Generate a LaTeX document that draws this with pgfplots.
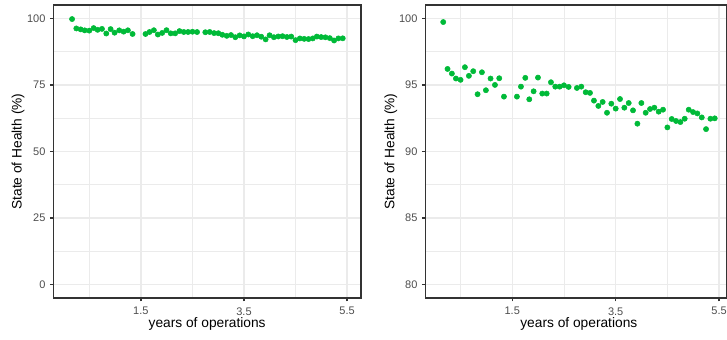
\documentclass[border=0pt]{standalone}
\usepackage{fontspec}
\setmainfont{Liberation Sans}
\usepackage{pgfplots}
\usepackage{pgfplotstable}
\pgfplotsset{compat=1.18}
\definecolor{ggreen}{HTML}{00BA38}
\definecolor{grey20}{HTML}{333333}
\definecolor{grey30}{HTML}{4D4D4D}
\definecolor{grey92}{HTML}{EBEBEB}

\pgfplotstableread{
x y
0.165 99.72
0.248 96.20
0.332 95.85
0.410 95.48
0.500 95.38
0.584 96.33
0.661 95.68
0.745 96.03
0.829 94.30
0.913 95.95
0.990 94.60
1.080 95.48
1.165 95.00
1.248 95.50
1.339 94.12
1.590 94.12
1.668 94.87
1.752 95.53
1.829 93.92
1.913 94.52
1.997 95.55
2.080 94.35
2.165 94.35
2.248 95.20
2.332 94.87
2.416 94.87
2.500 94.97
2.590 94.85
2.750 94.77
2.835 94.87
2.920 94.45
3.003 94.40
3.080 93.82
3.165 93.42
3.248 93.72
3.332 92.91
3.416 93.59
3.500 93.22
3.584 93.94
3.668 93.29
3.752 93.64
3.835 93.09
3.920 92.09
3.997 93.64
4.080 92.91
4.165 93.19
4.248 93.29
4.332 92.99
4.416 93.14
4.500 91.81
4.584 92.44
4.668 92.29
4.752 92.21
4.835 92.46
4.913 93.14
4.997 92.96
5.080 92.86
5.165 92.56
5.248 91.68
5.332 92.46
5.416 92.49
}\soh

\pgfplotsset{
  sohstyle/.style={
    scale only axis,
    anchor=south west,
    height=234.4pt,
    axis line style={grey20, line width=1.07pt},
    tick align=outside,
    tick pos=left,
    major tick length=2.75pt,
    minor tick length=0pt,
    major tick style={grey20, line width=1.07pt},
    grid=both,
    major grid style={grey92, line width=1.07pt},
    minor grid style={grey92, line width=0.53pt},
    xtick={1.5,3.5,5.5},
    minor xtick={0.5,2.5,4.5},
    xticklabels={1.5,3.5,5.5},
    ticklabel style={font=\fontsize{8.8}{10}\selectfont, color=grey30},
    xticklabel style={yshift=-1.2pt},
    /pgf/number format/assume math mode=true,
    label style={font=\fontsize{11}{13}\selectfont, color=black},
    xlabel={years of operations},
    ylabel={State of Health (\%)},
    ylabel style={at={(axis description cs:-0.1145,0.5)}, anchor=center},
  },
  sohmarks/.style={only marks, mark=*, mark size=2.1pt, color=ggreen, mark options={fill=ggreen, draw=none}},
}

\begin{document}
\begin{tikzpicture}
\useasboundingbox (0,0) rectangle (581.6pt,271.2pt);
\begin{axis}[sohstyle,
  at={(42.6pt,32.8pt)},
  width=246.2pt,
  xmin=-0.2, xmax=5.77,
  ymin=-5, ymax=105,
  ytick={0,25,50,75,100},
  yticklabels={0,25,50,75,100},
  minor ytick={12.5,37.5,62.5,87.5},
  xlabel style={at={(axis description cs:0.5,-0.09)}, anchor=center},
]
\addplot[sohmarks] table[x=x,y=y] {\soh};
\end{axis}
\begin{axis}[sohstyle,
  at={(340.2pt,32.8pt)},
  width=241.4pt,
  xmin=-0.183, xmax=5.653,
  ymin=79, ymax=101,
  ytick={80,85,90,95,100},
  yticklabels={80,85,90,95,100},
  minor ytick={82.5,87.5,92.5,97.5},
  xlabel style={at={(axis description cs:0.509,-0.09)}, anchor=center},
]
\addplot[sohmarks] table[x=x,y=y] {\soh};
\end{axis}
\end{tikzpicture}
\end{document}
